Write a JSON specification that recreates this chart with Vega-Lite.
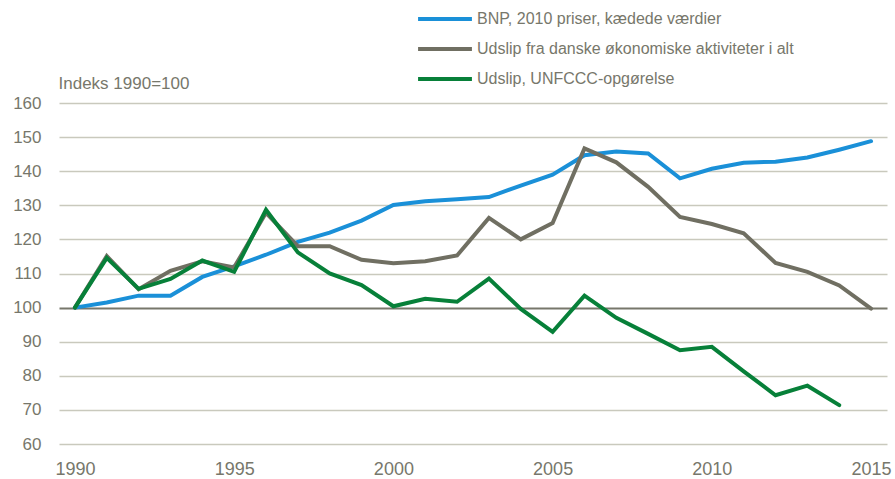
{
  "$schema": "https://vega.github.io/schema/vega-lite/v6.json",
  "width": 828,
  "height": 341,
  "autosize": {"type": "none"},
  "padding": {"left": 59, "top": 103, "right": 8, "bottom": 35},
  "background": "white",
  "config": {
    "view": {"stroke": null},
    "font": "Liberation Sans Narrow, Arial Narrow, sans-serif",
    "axis": {"labelColor": "#77776b", "titleColor": "#77776b", "labelFont": "Liberation Sans Narrow, Arial Narrow, sans-serif", "titleFont": "Liberation Sans Narrow, Arial Narrow, sans-serif"},
    "legend": {"labelFont": "Liberation Sans Narrow, Arial Narrow, sans-serif"}
  },
  "data": {
    "values": [
      {"year": 1990, "series": "BNP, 2010 priser, kædede værdier", "value": 100},
      {"year": 1991, "series": "BNP, 2010 priser, kædede værdier", "value": 101.5},
      {"year": 1992, "series": "BNP, 2010 priser, kædede værdier", "value": 103.5},
      {"year": 1993, "series": "BNP, 2010 priser, kædede værdier", "value": 103.5},
      {"year": 1994, "series": "BNP, 2010 priser, kædede værdier", "value": 109},
      {"year": 1995, "series": "BNP, 2010 priser, kædede værdier", "value": 112.1},
      {"year": 1996, "series": "BNP, 2010 priser, kædede værdier", "value": 115.5},
      {"year": 1997, "series": "BNP, 2010 priser, kædede værdier", "value": 119.3},
      {"year": 1998, "series": "BNP, 2010 priser, kædede værdier", "value": 122},
      {"year": 1999, "series": "BNP, 2010 priser, kædede værdier", "value": 125.5},
      {"year": 2000, "series": "BNP, 2010 priser, kædede værdier", "value": 130.1},
      {"year": 2001, "series": "BNP, 2010 priser, kædede værdier", "value": 131.2},
      {"year": 2002, "series": "BNP, 2010 priser, kædede værdier", "value": 131.8},
      {"year": 2003, "series": "BNP, 2010 priser, kædede værdier", "value": 132.4},
      {"year": 2004, "series": "BNP, 2010 priser, kædede værdier", "value": 135.8},
      {"year": 2005, "series": "BNP, 2010 priser, kædede værdier", "value": 139},
      {"year": 2006, "series": "BNP, 2010 priser, kædede værdier", "value": 144.7},
      {"year": 2007, "series": "BNP, 2010 priser, kædede værdier", "value": 145.8},
      {"year": 2008, "series": "BNP, 2010 priser, kædede værdier", "value": 145.2},
      {"year": 2009, "series": "BNP, 2010 priser, kædede værdier", "value": 137.9},
      {"year": 2010, "series": "BNP, 2010 priser, kædede værdier", "value": 140.7},
      {"year": 2011, "series": "BNP, 2010 priser, kædede værdier", "value": 142.5},
      {"year": 2012, "series": "BNP, 2010 priser, kædede værdier", "value": 142.8},
      {"year": 2013, "series": "BNP, 2010 priser, kædede værdier", "value": 144},
      {"year": 2014, "series": "BNP, 2010 priser, kædede værdier", "value": 146.3},
      {"year": 2015, "series": "BNP, 2010 priser, kædede værdier", "value": 148.8},
      {"year": 1990, "series": "Udslip fra danske økonomiske aktiviteter i alt", "value": 100},
      {"year": 1991, "series": "Udslip fra danske økonomiske aktiviteter i alt", "value": 115.1},
      {"year": 1992, "series": "Udslip fra danske økonomiske aktiviteter i alt", "value": 105.4},
      {"year": 1993, "series": "Udslip fra danske økonomiske aktiviteter i alt", "value": 110.8},
      {"year": 1994, "series": "Udslip fra danske økonomiske aktiviteter i alt", "value": 113.6},
      {"year": 1995, "series": "Udslip fra danske økonomiske aktiviteter i alt", "value": 111.8},
      {"year": 1996, "series": "Udslip fra danske økonomiske aktiviteter i alt", "value": 127.8},
      {"year": 1997, "series": "Udslip fra danske økonomiske aktiviteter i alt", "value": 118},
      {"year": 1998, "series": "Udslip fra danske økonomiske aktiviteter i alt", "value": 118},
      {"year": 1999, "series": "Udslip fra danske økonomiske aktiviteter i alt", "value": 114},
      {"year": 2000, "series": "Udslip fra danske økonomiske aktiviteter i alt", "value": 113},
      {"year": 2001, "series": "Udslip fra danske økonomiske aktiviteter i alt", "value": 113.6},
      {"year": 2002, "series": "Udslip fra danske økonomiske aktiviteter i alt", "value": 115.3},
      {"year": 2003, "series": "Udslip fra danske økonomiske aktiviteter i alt", "value": 126.3},
      {"year": 2004, "series": "Udslip fra danske økonomiske aktiviteter i alt", "value": 120},
      {"year": 2005, "series": "Udslip fra danske økonomiske aktiviteter i alt", "value": 124.8},
      {"year": 2006, "series": "Udslip fra danske økonomiske aktiviteter i alt", "value": 146.7},
      {"year": 2007, "series": "Udslip fra danske økonomiske aktiviteter i alt", "value": 142.6},
      {"year": 2008, "series": "Udslip fra danske økonomiske aktiviteter i alt", "value": 135.4},
      {"year": 2009, "series": "Udslip fra danske økonomiske aktiviteter i alt", "value": 126.6},
      {"year": 2010, "series": "Udslip fra danske økonomiske aktiviteter i alt", "value": 124.5},
      {"year": 2011, "series": "Udslip fra danske økonomiske aktiviteter i alt", "value": 121.8},
      {"year": 2012, "series": "Udslip fra danske økonomiske aktiviteter i alt", "value": 113.1},
      {"year": 2013, "series": "Udslip fra danske økonomiske aktiviteter i alt", "value": 110.5},
      {"year": 2014, "series": "Udslip fra danske økonomiske aktiviteter i alt", "value": 106.5},
      {"year": 2015, "series": "Udslip fra danske økonomiske aktiviteter i alt", "value": 99.7},
      {"year": 1990, "series": "Udslip, UNFCCC-opgørelse", "value": 100},
      {"year": 1991, "series": "Udslip, UNFCCC-opgørelse", "value": 114.6},
      {"year": 1992, "series": "Udslip, UNFCCC-opgørelse", "value": 105.5},
      {"year": 1993, "series": "Udslip, UNFCCC-opgørelse", "value": 108.4},
      {"year": 1994, "series": "Udslip, UNFCCC-opgørelse", "value": 113.8},
      {"year": 1995, "series": "Udslip, UNFCCC-opgørelse", "value": 110.5},
      {"year": 1996, "series": "Udslip, UNFCCC-opgørelse", "value": 128.7},
      {"year": 1997, "series": "Udslip, UNFCCC-opgørelse", "value": 116.2},
      {"year": 1998, "series": "Udslip, UNFCCC-opgørelse", "value": 110},
      {"year": 1999, "series": "Udslip, UNFCCC-opgørelse", "value": 106.6},
      {"year": 2000, "series": "Udslip, UNFCCC-opgørelse", "value": 100.4},
      {"year": 2001, "series": "Udslip, UNFCCC-opgørelse", "value": 102.6},
      {"year": 2002, "series": "Udslip, UNFCCC-opgørelse", "value": 101.7},
      {"year": 2003, "series": "Udslip, UNFCCC-opgørelse", "value": 108.5},
      {"year": 2004, "series": "Udslip, UNFCCC-opgørelse", "value": 99.6},
      {"year": 2005, "series": "Udslip, UNFCCC-opgørelse", "value": 92.9},
      {"year": 2006, "series": "Udslip, UNFCCC-opgørelse", "value": 103.5},
      {"year": 2007, "series": "Udslip, UNFCCC-opgørelse", "value": 97},
      {"year": 2008, "series": "Udslip, UNFCCC-opgørelse", "value": 92.3},
      {"year": 2009, "series": "Udslip, UNFCCC-opgørelse", "value": 87.5},
      {"year": 2010, "series": "Udslip, UNFCCC-opgørelse", "value": 88.5},
      {"year": 2011, "series": "Udslip, UNFCCC-opgørelse", "value": 81.3},
      {"year": 2012, "series": "Udslip, UNFCCC-opgørelse", "value": 74.3},
      {"year": 2013, "series": "Udslip, UNFCCC-opgørelse", "value": 77.1},
      {"year": 2014, "series": "Udslip, UNFCCC-opgørelse", "value": 71.4}
    ]
  },
  "mark": {"type": "line", "strokeWidth": 4, "strokeJoin": "miter", "strokeCap": "round"},
  "encoding": {
    "x": {
      "field": "year", "type": "quantitative",
      "scale": {"domain": [1989.5, 2015.5], "nice": false, "zero": false},
      "axis": {
        "values": [1990, 1995, 2000, 2005, 2010, 2015], "format": "d",
        "title": null, "grid": false, "domain": false, "ticks": false,
        "labelFontSize": 18, "labelPadding": 16, "labelFlush": false
      }
    },
    "y": {
      "field": "value", "type": "quantitative",
      "scale": {"domain": [60, 160], "nice": false, "zero": false},
      "axis": {
        "values": [60, 70, 80, 90, 100, 110, 120, 130, 140, 150, 160],
        "title": "Indeks 1990=100", "titleAngle": 0, "titleAlign": "left", "titleBaseline": "middle",
        "titleX": -1, "titleY": -20, "titleFontSize": 17, "titleFontWeight": "normal",
        "domain": false, "ticks": false, "labelFontSize": 17, "labelPadding": 18,
        "gridColor": {"condition": {"test": "datum.value === 100", "value": "#77776b"}, "value": "#c9c9bd"},
        "gridWidth": {"condition": {"test": "datum.value === 100", "value": 2}, "value": 1.5}
      }
    },
    "color": {
      "field": "series", "type": "nominal",
      "scale": {
        "domain": ["BNP, 2010 priser, kædede værdier", "Udslip fra danske økonomiske aktiviteter i alt", "Udslip, UNFCCC-opgørelse"],
        "range": ["#1a90d8", "#706f62", "#078039"]
      },
      "legend": {
        "title": null, "orient": "none", "legendX": 357, "legendY": -99,
        "symbolType": "stroke", "symbolSize": 2900, "symbolStrokeWidth": 4, "clipHeight": 30,
        "labelFontSize": 16, "labelColor": "#77776b", "labelOffset": 3, "rowPadding": 0, "labelLimit": 500
      }
    }
  }
}
